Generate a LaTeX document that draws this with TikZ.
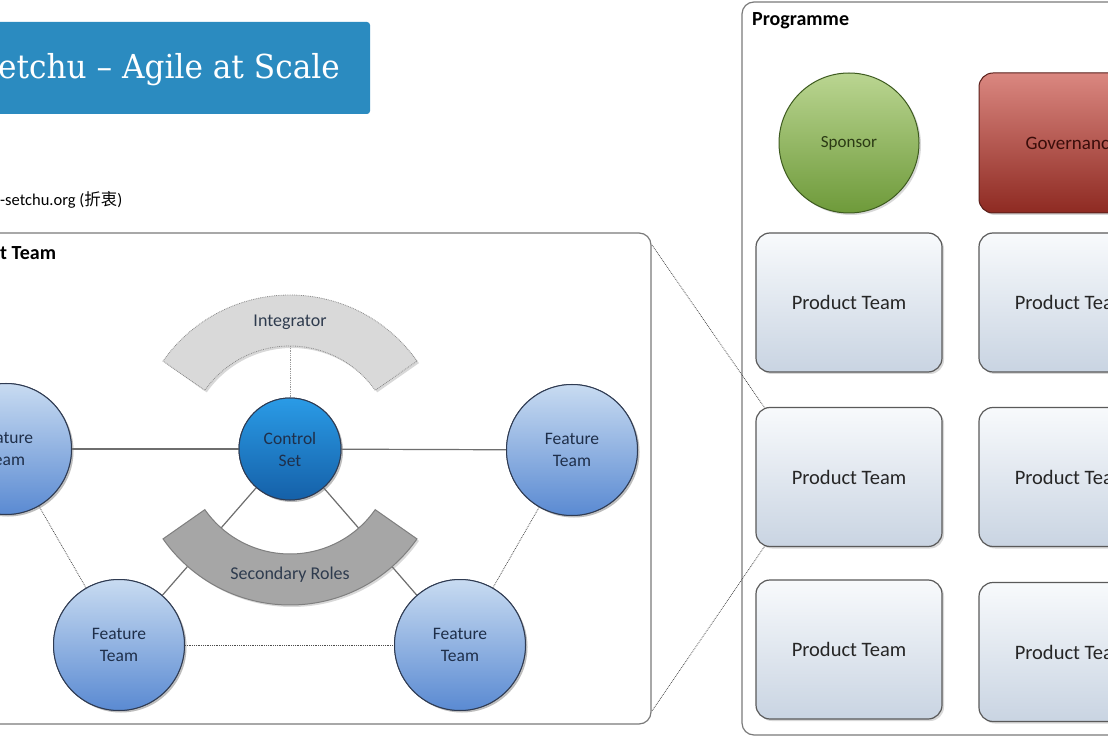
\documentclass[tikz,border=0pt]{standalone}
\usepackage{fontspec}
\setmainfont{Carlito}
\newfontfamily\titlefont{DejaVu Serif}
\newfontfamily\cjkfont{Noto Sans CJK SC}
\usetikzlibrary{shadows}
\definecolor{bannerblue}{HTML}{2B8BC0}
\definecolor{frame}{HTML}{7A7A7A}
\definecolor{ftTop}{HTML}{C8DBF1}
\definecolor{ftBot}{HTML}{5A8AD2}
\definecolor{ftText}{HTML}{1F2F4A}
\definecolor{ftEdge}{HTML}{2F3B52}
\definecolor{csTop}{HTML}{2A9BE6}
\definecolor{csBot}{HTML}{1560A8}
\definecolor{spTop}{HTML}{BAD591}
\definecolor{spBot}{HTML}{6E9A3A}
\definecolor{spEdge}{HTML}{3D5A1F}
\definecolor{spText}{HTML}{2B3A14}
\definecolor{gvTop}{HTML}{DA8780}
\definecolor{gvBot}{HTML}{8E2A22}
\definecolor{gvEdge}{HTML}{5A1F1A}
\definecolor{gvText}{HTML}{3A0D0A}
\definecolor{ptTop}{HTML}{F8FAFC}
\definecolor{ptBot}{HTML}{C9D4E2}
\definecolor{ptEdge}{HTML}{5A5A5A}
\definecolor{intFill}{HTML}{D9D9D9}
\definecolor{secFill}{HTML}{A6A6A6}
\definecolor{secEdge}{HTML}{7F7F7F}
\definecolor{lineGray}{HTML}{6E6E6E}
\definecolor{ringText}{HTML}{2E3B4E}
\begin{document}
\begin{tikzpicture}[x=1pt,y=1pt,
  shade/.style={drop shadow={opacity=0.3,shadow xshift=2pt,shadow yshift=-2pt}},
  container/.style={draw=frame,line width=1.2pt,rounded corners=12pt,fill=white,inner sep=0},
  boxlabel/.style={font=\bfseries\fontsize{20}{24}\selectfont,anchor=west,inner sep=0},
  ft/.style={circle,minimum size=131pt,inner sep=0,draw=ftEdge,line width=1pt,
    top color=ftTop,bottom color=ftBot,text=ftText,align=center,
    font=\fontsize{17.5}{22}\selectfont,shade},
  cs/.style={circle,minimum size=102pt,inner sep=0,draw=ftEdge,line width=1pt,
    top color=csTop,bottom color=csBot,text=ftText,align=center,
    font=\fontsize{17.5}{22}\selectfont,shade},
  pt/.style={rectangle,rounded corners=14pt,minimum width=186pt,minimum height=139pt,
    draw=ptEdge,line width=1.2pt,top color=ptTop,bottom color=ptBot,
    text=black!85,font=\fontsize{20.5}{24}\selectfont,shade},
  solidlink/.style={draw=lineGray,line width=1.2pt},
  dotlink/.style={draw=black!70,line width=0.8pt,densely dotted},
  ringlabel/.style={text=ringText,font=\fontsize{18}{21}\selectfont}
]
\useasboundingbox (0,0) rectangle (1108,737);
\clip (0,0) rectangle (1108,737);

% title banner
\node[fill=bannerblue,rounded corners=3pt,minimum width=390pt,minimum height=92pt,inner sep=0] (banner) at (175,669) {};
\node[anchor=east,text=white,inner sep=0,font=\titlefont\fontsize{33}{38}\selectfont] (title) at (340,667) {\scalebox{0.945}[1]{etchu – Agile at Scale}};
\node[anchor=west,inner sep=0,font=\fontsize{16.5}{19}\selectfont] (url) at (0,537) {-setchu.org ({\cjkfont 折衷})};

% left container
\node[container,minimum width=690pt,minimum height=491pt] (ptc) at (306,258.5) {};
\node[boxlabel] (ptl) at (0,484) {t Team};

% programme container
\node[container,minimum width=398pt,minimum height=733pt] (prog) at (941,368.5) {};
\node[boxlabel] (progl) at (752,716) {Programme};

% ring centre
\coordinate (rc) at (290,287);

% nodes of product team diagram
\node[ft] (ftl) at (6,288) {Feature\\Team};
\node[ft] (ftr) at (572,287) {Feature\\Team};
\node[ft] (ftbl) at (119,92) {Feature\\Team};
\node[ft] (ftbr) at (460,92) {Feature\\Team};
\node[cs] (cs) at (290,288) {Control\\Set};

% connectors
\coordinate (intin) at ([shift={(90:104pt)}]rc);
\draw[dotlink,draw=black!40] (intin) -- (cs.north);
\draw[solidlink] (ftl) -- (cs);
\draw[solidlink] (cs) -- (ftr);
\draw[solidlink] (cs) -- (ftbl);
\draw[solidlink] (cs) -- (ftbr);
\draw[dotlink] (ftl) -- (ftbl);
\draw[dotlink] (ftbl) -- (ftbr);
\draw[dotlink] (ftbr) -- (ftr);

% integrator ring
\path[fill=intFill,draw=black!45,densely dotted,line width=0.8pt,shade]
  ([shift={(35:155pt)}]rc) arc[start angle=35,end angle=145,radius=155pt]
  -- ([shift={(145:104pt)}]rc) arc[start angle=145,end angle=35,radius=104pt] -- cycle;
\node[ringlabel] (intl) at (290,415) {Integrator};

% secondary roles ring
\path[fill=secFill,draw=secEdge,line width=1pt,shade]
  ([shift={(215:155pt)}]rc) arc[start angle=215,end angle=325,radius=155pt]
  -- ([shift={(325:104pt)}]rc) arc[start angle=325,end angle=215,radius=104pt] -- cycle;
\node[ringlabel] (secl) at (290,162) {Secondary Roles};

% circles on top of connectors
\node[ft] at (ftl) {Feature\\Team};
\node[ft] at (ftr) {Feature\\Team};
\node[ft] at (ftbl) {Feature\\Team};
\node[ft] at (ftbr) {Feature\\Team};
\node[cs] at (cs) {Control\\Set};

% programme contents
\node[circle,minimum size=140pt,inner sep=0,draw=spEdge,line width=1pt,top color=spTop,bottom color=spBot,
  text=spText,font=\fontsize{17}{20}\selectfont,shade] (sp) at (849,594) {Sponsor};
\node[rectangle,rounded corners=14pt,minimum width=186pt,minimum height=140pt,draw=gvEdge,line width=1pt,
  top color=gvTop,bottom color=gvBot,text=gvText,font=\fontsize{19}{22}\selectfont,shade] (gov) at (1072,594) {Governance};

\node[pt] (p11) at (849,434.5) {Product Team};
\node[pt] (p12) at (1072,434.5) {Product Team};
\node[pt] (p21) at (849,260) {Product Team};
\node[pt] (p22) at (1072,260) {Product Team};
\node[pt] (p31) at (849,87.5) {Product Team};
\node[pt] (p32) at (1072,85) {Product Team};

% zoom lines
\coordinate (zt) at (652,492);
\coordinate (zb) at (652,26);
\draw[dotlink] (zt) -- ([shift={(10pt,-2pt)}]p21.north west);
\draw[dotlink] (zb) -- ([shift={(10pt,2pt)}]p21.south west);
\end{tikzpicture}
\end{document}
